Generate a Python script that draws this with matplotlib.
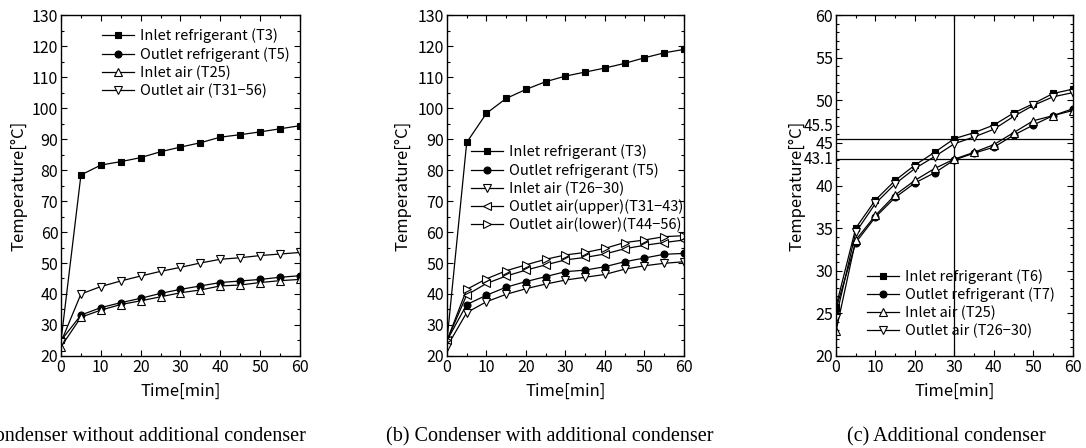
import numpy as np
import matplotlib
matplotlib.use("Agg")
import matplotlib.pyplot as plt
from matplotlib.ticker import MultipleLocator

plt.rcParams["font.family"] = ["Noto Sans CJK JP", "DejaVu Sans"]
plt.rcParams["font.size"] = 10

time_min = [0, 5, 10, 15, 20, 25, 30, 35, 40, 45, 50, 55, 60]

# (a) condenser without additional condenser
a_inlet_ref = [25.0, 78.4, 81.6, 82.7, 84.0, 85.9, 87.4, 88.8, 90.6, 91.4, 92.3, 93.3, 94.3]
a_outlet_ref = [25.0, 33.2, 35.6, 37.2, 38.6, 40.2, 41.5, 42.6, 43.7, 44.2, 44.7, 45.4, 45.9]
a_inlet_air = [23.0, 32.5, 34.8, 36.6, 37.8, 39.1, 40.4, 41.3, 42.6, 42.9, 43.7, 44.3, 44.7]
a_outlet_air = [24.5, 40.0, 42.4, 44.2, 45.8, 47.3, 48.6, 50.0, 51.2, 51.7, 52.4, 52.9, 53.4]

# (b) condenser with additional condenser
b_inlet_ref = [25.0, 88.9, 98.3, 103.1, 106.0, 108.5, 110.3, 111.6, 112.9, 114.4, 116.2, 117.8, 118.9]
b_outlet_ref = [25.0, 36.6, 39.6, 42.2, 44.0, 45.6, 47.2, 47.7, 48.8, 50.4, 51.6, 52.8, 53.1]
b_inlet_air = [23.0, 34.0, 37.5, 39.9, 41.7, 43.2, 44.5, 45.4, 46.3, 48.0, 49.1, 49.9, 50.4]
b_outlet_upper = [25.0, 39.7, 43.4, 45.8, 47.7, 49.4, 51.0, 51.8, 52.9, 54.6, 55.7, 56.6, 57.4]
b_outlet_lower = [25.0, 41.5, 44.9, 47.5, 49.4, 51.2, 52.6, 53.4, 54.7, 56.6, 57.4, 58.5, 58.8]

# (c) additional condenser
c_inlet_ref = [25.8, 35.0, 38.3, 40.6, 42.4, 43.9, 45.5, 46.2, 47.1, 48.5, 49.6, 50.8, 51.3]
c_outlet_ref = [25.5, 33.3, 36.3, 38.6, 40.3, 41.5, 43.0, 43.8, 44.5, 45.9, 47.1, 48.2, 49.0]
c_inlet_air = [22.9, 33.6, 36.5, 38.9, 40.6, 42.0, 43.1, 43.9, 44.8, 46.2, 47.6, 48.2, 48.8]
c_outlet_air = [24.5, 34.5, 37.9, 40.2, 42.0, 43.4, 44.9, 45.7, 46.6, 48.1, 49.4, 50.4, 50.9]
c_ref_lines = [45.5, 43.1]
c_ref_time = 30

captions = [
    "(a) Condenser without additional condenser",
    "(b) Condenser with additional condenser",
    "(c) Additional condenser",
]


def style_axis(ax, ylim, ymajor, yminor, ylab_x):
    ax.set_xlim(0, 60)
    ax.set_ylim(*ylim)
    ax.xaxis.set_major_locator(MultipleLocator(10))
    ax.xaxis.set_minor_locator(MultipleLocator(5))
    ax.yaxis.set_major_locator(MultipleLocator(ymajor))
    ax.yaxis.set_minor_locator(MultipleLocator(yminor))
    ax.tick_params(which="both", direction="in", top=True, right=True, width=0.8)
    ax.tick_params(which="major", length=4, labelsize=11.5, pad=2)
    ax.tick_params(which="minor", length=2)
    for s in ax.spines.values():
        s.set_linewidth(1.0)
    ax.set_xlabel("Time[min]", fontsize=12)
    ax.set_ylabel("Temperature[°C]", fontsize=12)
    ax.xaxis.set_label_coords(0.5, -0.08)
    ax.yaxis.set_label_coords(ylab_x, 0.5)


def series(ax, y, marker, label):
    filled = marker in ("s", "o")
    ax.plot(time_min, y, color="black", lw=0.9, marker=marker, ms=5 if filled else 5.5,
            mfc="black" if filled else "white", mec="black", mew=0.8, label=label)


def legend(ax, x, y):
    ax.legend(loc="upper left", bbox_to_anchor=(x, y), frameon=False, fontsize=10.5,
              handlelength=2.2, handletextpad=0.4, labelspacing=0.25,
              borderpad=0, borderaxespad=0)


fig = plt.figure(figsize=(10.86, 4.48), dpi=100)
axa = fig.add_axes([0.0562, 0.2054, 0.220, 0.761])
axb = fig.add_axes([0.4116, 0.2054, 0.218, 0.761])
axc = fig.add_axes([0.7698, 0.2054, 0.218, 0.761])

series(axa, a_inlet_ref, "s", "Inlet refrigerant (T3)")
series(axa, a_outlet_ref, "o", "Outlet refrigerant (T5)")
series(axa, a_inlet_air, "^", "Inlet air (T25)")
series(axa, a_outlet_air, "v", "Outlet air (T31\u221256)")
style_axis(axa, (20, 130), 10, 5, -0.14)
legend(axa, 0.17, 0.96)

series(axb, b_inlet_ref, "s", "Inlet refrigerant (T3)")
series(axb, b_outlet_ref, "o", "Outlet refrigerant (T5)")
series(axb, b_inlet_air, "v", "Inlet air (T26\u221230)")
series(axb, b_outlet_upper, "<", "Outlet air(upper)(T31\u221243)")
series(axb, b_outlet_lower, ">", "Outlet air(lower)(T44\u221256)")
style_axis(axb, (20, 130), 10, 5, -0.15)
legend(axb, 0.10, 0.62)

for v in c_ref_lines:
    axc.axhline(v, color="black", lw=0.9)
axc.axvline(c_ref_time, color="black", lw=0.9)
series(axc, c_inlet_ref, "s", "Inlet refrigerant (T6)")
series(axc, c_outlet_ref, "o", "Outlet refrigerant (T7)")
series(axc, c_inlet_air, "^", "Inlet air (T25)")
series(axc, c_outlet_air, "v", "Outlet air (T26\u221230)")
style_axis(axc, (20, 60), 5, 1, -0.13)
legend(axc, 0.13, 0.255)
for v in c_ref_lines:
    off = 1.4 if v > 45 else -0.1
    axc.text(-0.01, v + off, f"{v}", transform=axc.get_yaxis_transform(),
             ha="right", va="center", fontsize=11)

cap_x = [130, 550, 946]
for x, t in zip(cap_x, captions):
    fig.text(x / 1086, 1 - 437 / 448, t, ha="center", va="center",
             family="Liberation Serif", fontsize=14.5)

fig.savefig("out.png", dpi=100)
